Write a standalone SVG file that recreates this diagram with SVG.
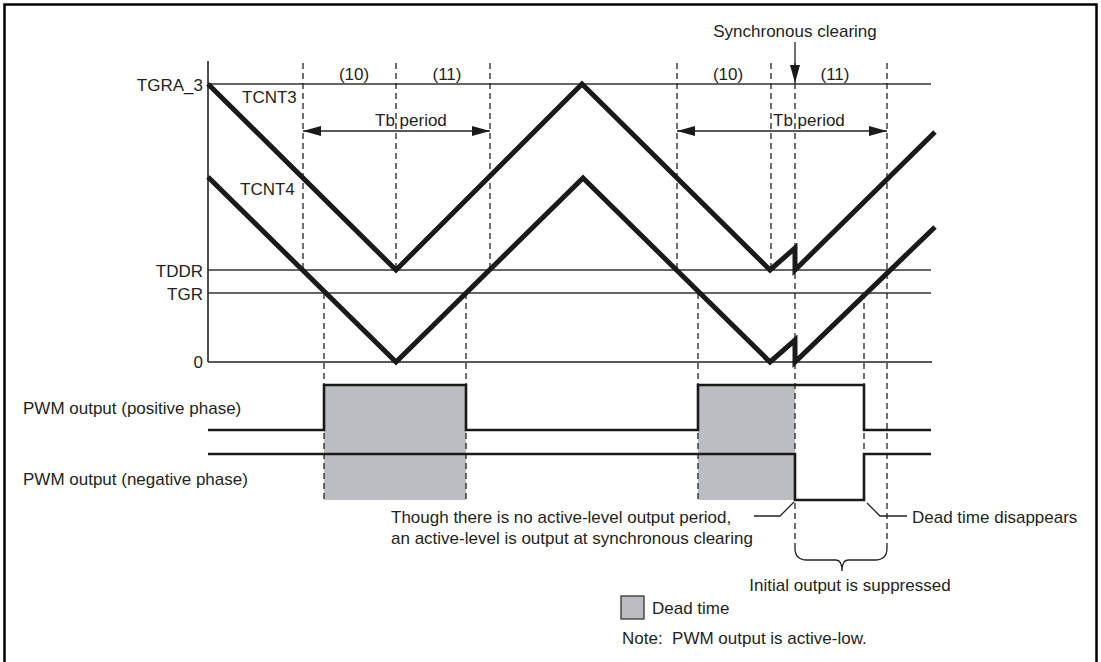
<svg xmlns="http://www.w3.org/2000/svg" width="1101" height="662" viewBox="0 0 1101 662">
<style>
text{font-family:"Liberation Sans",Arial,sans-serif;font-size:17px;fill:#231f20}
.end{text-anchor:end}
.mid{text-anchor:middle}
.thin{stroke:#333;stroke-width:1.4;fill:none}
.axis{stroke:#222;stroke-width:1.6;fill:none}
.dash{stroke:#222;stroke-width:1.3;stroke-dasharray:6,4;fill:none}
.cnt{stroke:#1a1a1a;stroke-width:5;fill:none;stroke-linejoin:miter}
.sig{stroke:#1a1a1a;stroke-width:2.6;fill:none}
.dead{fill:#bcbdc0}
.lead{stroke:#222;stroke-width:1.3;fill:none}
</style>
<defs>
<marker id="ah" viewBox="0 0 18 10" refX="18" refY="5" markerWidth="18" markerHeight="10" markerUnits="userSpaceOnUse" orient="auto-start-reverse">
<path d="M0,0 L18,5 L0,10 Z" fill="#1a1a1a"/>
</marker>
</defs>
<rect x="4.5" y="4.5" width="1092" height="660" fill="#fff" stroke="#000" stroke-width="2.5"/>

<g id="deadtime-areas">
<rect class="dead" x="324" y="385" width="142" height="115"/>
<rect class="dead" x="698" y="385" width="97" height="115"/>
</g>

<g id="levels">
<line class="axis" x1="208" y1="61" x2="208" y2="362"/>
<line class="thin" x1="208" y1="84" x2="931" y2="84"/>
<line class="thin" x1="208" y1="270" x2="931" y2="270"/>
<line class="thin" x1="208" y1="293" x2="931" y2="293"/>
<line class="axis" x1="208" y1="362" x2="932" y2="362"/>
<text class="end" x="203" y="91">TGRA_3</text>
<text class="end" x="203" y="277">TDDR</text>
<text class="end" x="203" y="300">TGR</text>
<text class="end" x="203" y="368">0</text>
</g>

<g id="dashed-markers">
<line class="dash" x1="303" y1="63" x2="303" y2="270"/>
<line class="dash" x1="396" y1="63" x2="396" y2="270"/>
<line class="dash" x1="490" y1="63" x2="490" y2="270"/>
<line class="dash" x1="324" y1="293" x2="324" y2="500"/>
<line class="dash" x1="466" y1="293" x2="466" y2="500"/>
<line class="dash" x1="677" y1="63" x2="677" y2="270"/>
<line class="dash" x1="771" y1="63" x2="771" y2="270"/>
<line class="dash" x1="795" y1="63" x2="795" y2="548"/>
<line class="dash" x1="887" y1="63" x2="887" y2="548"/>
<line class="dash" x1="698" y1="293" x2="698" y2="500"/>
<line class="dash" x1="864" y1="293" x2="864" y2="500"/>
</g>

<g id="period-labels">
<text class="mid" x="354" y="80">(10)</text>
<text class="mid" x="447" y="80">(11)</text>
<text class="mid" x="728" y="80">(10)</text>
<text class="mid" x="835" y="80">(11)</text>
</g>

<g id="tb-period-left">
<line class="lead" x1="303" y1="131" x2="490" y2="131" marker-start="url(#ah)" marker-end="url(#ah)"/>
<text x="375" y="126">Tb period</text>
</g>
<g id="tb-period-right">
<line class="lead" x1="677" y1="131" x2="887" y2="131" marker-start="url(#ah)" marker-end="url(#ah)"/>
<text x="773" y="126">Tb period</text>
</g>

<g id="sync-clearing">
<text class="mid" x="795" y="37">Synchronous clearing</text>
<line class="lead" x1="795" y1="42" x2="795" y2="83" marker-end="url(#ah)"/>
</g>

<g id="tcnt3">
<path class="cnt" d="M208,84 L396,270 L582,84 L770,270 L795,248 L795,270 L935,132"/>
<text x="242" y="103">TCNT3</text>
</g>
<g id="tcnt4">
<path class="cnt" d="M208,177 L396,362 L583,178 L770,362 L795,340 L795,362 L935,227"/>
<text x="240" y="195">TCNT4</text>
</g>

<g id="pwm-positive">
<path class="sig" d="M208,430 H324 V385 H466 V430 H698 V385 H864 V430 H931"/>
<text x="23" y="414">PWM output (positive phase)</text>
</g>
<g id="pwm-negative">
<path class="sig" d="M208,454 H795 V500 H864 V454 H931"/>
<text x="23" y="485">PWM output (negative phase)</text>
</g>

<g id="connectors">
<path class="lead" d="M754,516 H780 L794,502"/>
<path class="lead" d="M867,503 L880,516 H907"/>
<path class="lead" d="M795,548 Q795,560 807,560 H836 Q842,560 842,571 Q842,560 848,560 H875 Q887,560 887,548"/>
</g>

<g id="notes">
<text x="391" y="523">Though there is no active-level output period,</text>
<text x="391" y="544">an active-level is output at synchronous clearing</text>
<text x="912" y="523">Dead time disappears</text>
<text class="mid" x="850" y="591">Initial output is suppressed</text>
</g>

<g id="legend">
<rect x="621" y="596" width="23" height="23" fill="#bcbdc0" stroke="#333" stroke-width="1.3"/>
<text x="652" y="614">Dead time</text>
<text x="622" y="644" xml:space="preserve">Note:  PWM output is active-low.</text>
</g>
</svg>
